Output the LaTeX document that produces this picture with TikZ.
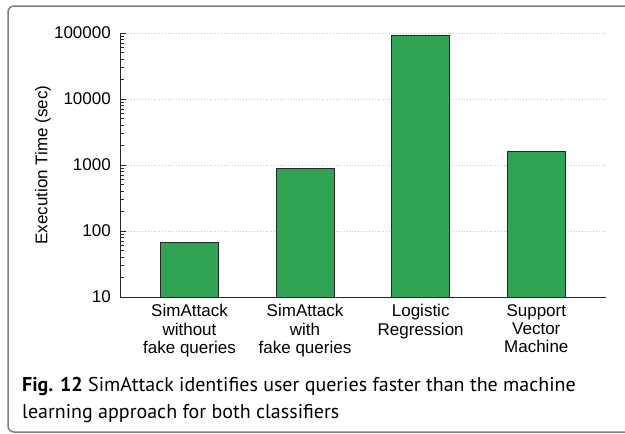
\documentclass[tikz,border=0pt]{standalone}
\usepackage{fontspec}
\setmainfont{Liberation Sans}
\newfontfamily\capfont{PT Sans}
\definecolor{bargreen}{RGB}{49,163,84}
\definecolor{framegray}{RGB}{125,125,125}
\definecolor{gridgray}{RGB}{200,200,200}
\begin{document}
\begin{tikzpicture}[x=1pt,y=-1pt,
  chartfont/.style={font=\fontsize{17}{18.3}\selectfont},
  bar/.style={draw=black!85,line width=0.9pt,fill=bargreen},
  gridline/.style={draw=gridgray,line width=0.8pt,dotted},
  axisline/.style={draw=black!85,line width=1pt},
  ticklabel/.style={chartfont,anchor=east,inner sep=0pt},
  catlabel/.style={chartfont,anchor=north,align=center,inner sep=0pt},
  captext/.style={font=\capfont\fontsize{20}{26}\selectfont,anchor=base west,inner sep=0pt}]
\useasboundingbox (0,0) rectangle (625,434);
% frame
\draw[framegray,line width=1.5pt,rounded corners=6pt] (8,6) rectangle (660,432);
% grid
\foreach \k in {1,...,4}
  \draw[gridline] (120,{297-66*\k}) -- (606,{297-66*\k});
% bars (value = m * 10^e  ->  y = 297 - 66*(e-1+log10(m)))
\draw[bar] (160.7,297) rectangle (218.3,{297-66*(0+log10(6.7))});
\draw[bar] (276.3,297) rectangle (334,{297-66*(1+log10(9.0))});
\draw[bar] (391.7,297) rectangle (449.7,{297-66*(3+log10(9.1))});
\draw[bar] (507.3,297) rectangle (565.3,{297-66*(2+log10(1.63))});
% axes
\coordinate (o) at (120,297);
\coordinate (ytop) at (120,33);
\coordinate (xend) at (606,297);
\draw[axisline] (ytop) -- (o) -- (xend);
% ticks
\foreach \k in {0,...,4}
  \draw[axisline] (120,{297-66*\k}) -- ++(6,0);
\foreach \d in {0,...,3}
  \foreach \m in {2,...,9}
    \draw[axisline,line width=0.8pt] (120,{297-66*(\d+log10(\m))}) -- ++(4,0);
% tick labels
\node[ticklabel] (t1) at (111,297) {10};
\node[ticklabel] (t2) at (111,231) {100};
\node[ticklabel] (t3) at (111,165) {1000};
\node[ticklabel] (t4) at (111,99) {10000};
\node[ticklabel] (t5) at (111,33) {100000};
% y label
\node[chartfont,rotate=90] (ylab) at (43,165) {Execution Time (sec)};
% category labels
\node[catlabel] (c1) at (189.5,304.3) {SimAttack\\without\\fake queries};
\node[catlabel] (c2) at (305,304.3) {SimAttack\\with\\fake queries};
\node[catlabel] (c3) at (420.7,304.3) {Logistic\\Regression};
\node[catlabel] (c4) at (536.3,304.3) {Support\\Vector\\Machine};
% caption
\node[captext] (cap1) at (22,391.5) {\textbf{Fig. 12} SimAttack identifies user queries faster than the machine};
\node[captext] (cap2) at (22,418.5) {learning approach for both classifiers};
\end{tikzpicture}
\end{document}
